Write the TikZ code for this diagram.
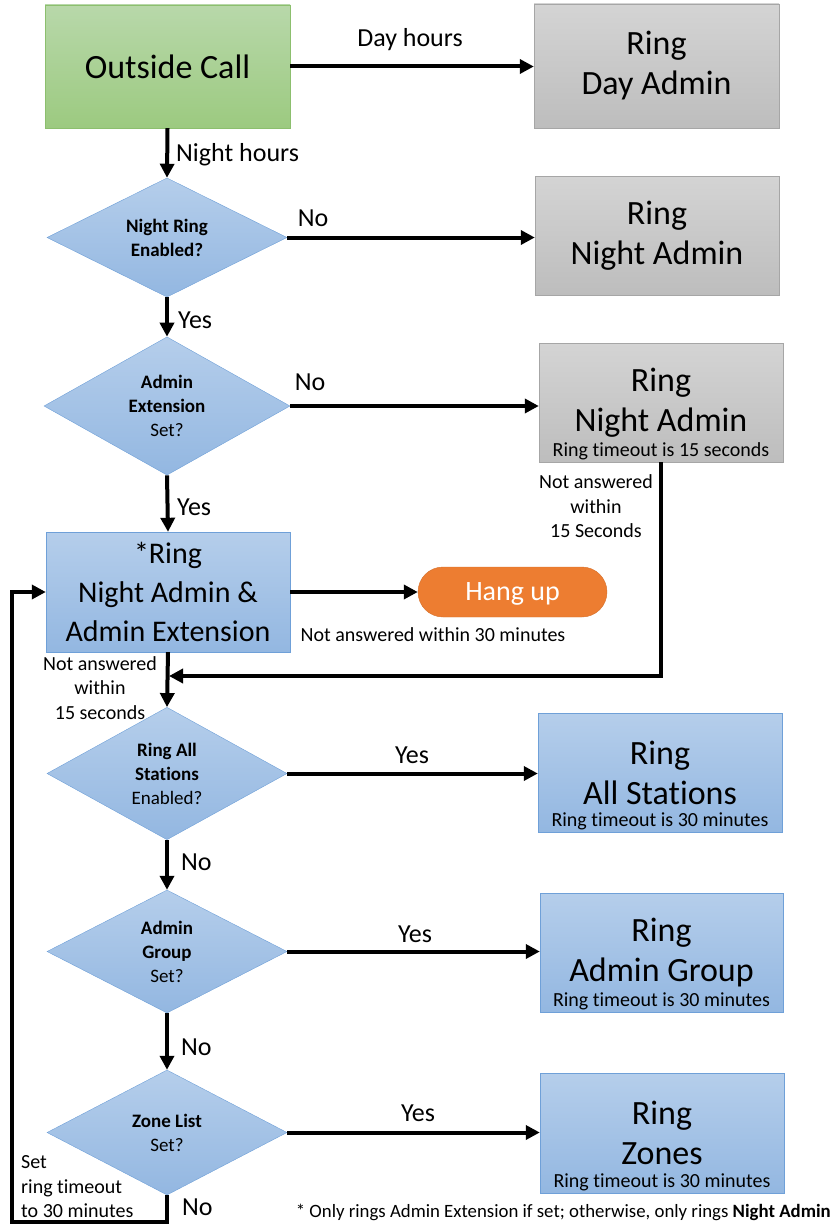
\documentclass[tikz,border=0pt]{standalone}
\usepackage{fontspec}
\setmainfont{Carlito}[Ligatures=NoCommon]
\usetikzlibrary{shapes.geometric,arrows.meta}
\definecolor{bluetop}{HTML}{B5CEEB}
\definecolor{bluebot}{HTML}{93B7E1}
\definecolor{blueline}{HTML}{6FA0D8}
\definecolor{graytop}{HTML}{D4D4D4}
\definecolor{graybot}{HTML}{BDBDBD}
\definecolor{grayline}{HTML}{A6A6A6}
\definecolor{greentop}{HTML}{B8D8AA}
\definecolor{greenbot}{HTML}{9CCA80}
\definecolor{greenline}{HTML}{8CBF6E}
\definecolor{hangfill}{HTML}{ED7D31}
\definecolor{hangline}{HTML}{D4702C}
\newcommand\fbig{\fontsize{34}{40}\selectfont}
\newcommand\fring{\fontsize{30}{39}\selectfont}
\newcommand\flab{\fontsize{26}{30}\selectfont}
\newcommand\fsm{\fontsize{20}{24.5}\selectfont}
\newcommand\fdia{\fontsize{19}{24}\selectfont}
\newcommand\ffoot{\fontsize{18.8}{22}\selectfont}
\tikzset{
  boxbase/.style={rectangle, inner sep=0pt, align=center, font=\fbig, text=black},
  greenbox/.style={boxbase, draw=greenline, top color=greentop, bottom color=greenbot, minimum width=245pt, minimum height=123pt},
  graybox/.style={boxbase, draw=grayline, top color=graytop, bottom color=graybot, minimum width=244pt, minimum height=120pt},
  bluebox/.style={boxbase, draw=blueline, top color=bluetop, bottom color=bluebot, minimum width=244pt, minimum height=120pt},
  decision/.style={diamond, inner sep=0pt, align=center, font=\fdia\bfseries, draw=blueline, top color=bluetop, bottom color=bluebot, minimum width=240pt, minimum height=122pt},
  flow/.style={line width=4pt, -{Triangle[length=14pt,width=14pt]}},
  lab/.style={font=\flab, inner sep=0pt},
  smalllab/.style={font=\fsm, inner sep=0pt, align=center},
  timeout/.style={font=\fsm, inner sep=0pt, text height=13pt, text depth=1pt},
}
\begin{document}
\begin{tikzpicture}[x=1pt,y=-1pt]
\useasboundingbox (0,0) rectangle (836,1228);
% boxes
\node[greenbox] (oc) at (167.5,66.5) {Outside Call};
\node[graybox, minimum width=245pt, minimum height=124pt] (da) at (656.5,66) {Ring\\Day Admin};
\node[graybox, minimum height=119pt] (na1) at (657,235.5) {Ring\\Night Admin};
\node[graybox, minimum height=119pt] (na2) at (661,402.5) {Ring\\Night Admin};
\node[timeout] (na2t) at ([yshift=12pt]na2.south) {Ring timeout is 15 seconds};
\node[bluebox, font=\fring] (rng) at (168,592) {*Ring\\Night Admin \&\\Admin Extension};
\node[rectangle, rounded corners=25pt, draw=hangline, fill=hangfill, minimum width=189pt, minimum height=50pt, font=\fontsize{28}{32}\selectfont, text=white, text height=20pt, text depth=3pt] (hang) at (512.5,592) {Hang up};
\node[bluebox, minimum height=119pt] (as) at (660,772.5) {Ring\\All Stations};
\node[timeout] (ast) at ([yshift=12pt]as.south) {Ring timeout is 30 minutes};
\node[bluebox, minimum width=243pt, minimum height=119pt] (ag) at (661.5,952.5) {Ring\\Admin Group};
\node[timeout] (agt) at ([yshift=12pt]ag.south) {Ring timeout is 30 minutes};
\node[bluebox] (zn) at (662,1133) {Ring\\Zones};
\node[timeout] (znt) at ([yshift=12pt]zn.south) {Ring timeout is 30 minutes};
% decisions
\node[decision, minimum height=119pt] (d1) at (167,237.5) {Night Ring\\Enabled?};
\node[decision, minimum width=246pt] (d2) at (167,406) {Admin\\Extension\\\mdseries Set?};
\node[decision, minimum height=123pt] (d3) at (167,773.5) {Ring All\\Stations\\\mdseries Enabled?};
\node[decision, minimum height=123pt] (d4) at (167,951.5) {Admin\\Group\\\mdseries Set?};
\node[decision, minimum height=125pt] (d5) at (167,1132.5) {Zone List\\\mdseries Set?};
% coordinates
\coordinate (mg) at (169,676);
\coordinate (lb) at (12,1222);
% connectors
\draw[flow] (oc.east) -- (oc.east -| da.west);
\draw[flow] (oc.south) -- (d1.north);
\draw[flow] (d1.east) -- (d1.east -| na1.west);
\draw[flow] (d1.south) -- (d2.north);
\draw[flow] (d2.east) -- (d2.east -| na2.west);
\draw[flow] (d2.south) -- (rng.north);
\draw[flow] (rng.east) -- (hang.west);
\draw[flow] (na2.south) |- (mg);
\draw[flow] (rng.south) -- (d3.north);
\draw[flow] (d3.east) -- (d3.east -| as.west);
\draw[flow] (d3.south) -- (d4.north);
\draw[flow] (d4.east) -- (d4.east -| ag.west);
\draw[flow] (d4.south) -- (d5.north);
\draw[flow] (d5.east) -- (d5.east -| zn.west);
\draw[flow] (d5.south) |- (lb) |- (rng.west);
% labels
\node[lab] (l1) at (410,40) {Day hours};
\node[lab, anchor=west] (l2) at (176,155) {Night hours};
\node[lab] (l3) at (313,218) {No};
\node[lab, anchor=west] (l4) at (178,320) {Yes};
\node[lab] (l5) at (310,382) {No};
\node[lab, anchor=west] (l6) at (177,507) {Yes};
\node[smalllab] (l7) at (433,635) {Not answered within 30 minutes};
\node[smalllab] (l8) at (596,506.5) {Not answered\\within\\15 Seconds};
\node[smalllab] (l9) at (100,688) {Not answered\\within\\15 seconds};
\node[lab] (l10) at (412,755) {Yes};
\node[lab, anchor=west] (l11) at (181,862) {No};
\node[lab] (l12) at (415,934) {Yes};
\node[lab, anchor=west] (l13) at (181,1047) {No};
\node[lab] (l14) at (418,1113) {Yes};
\node[lab, anchor=west] (l15) at (182,1207) {No};
\node[smalllab, align=left, anchor=west] (l16) at (21,1187) {Set\\ring timeout\\to 30 minutes};
\node[font=\ffoot, inner sep=0pt, anchor=east] (fn) at (831,1212) {* Only rings Admin Extension if set; otherwise, only rings \textbf{Night Admin}};
\end{tikzpicture}
\end{document}
